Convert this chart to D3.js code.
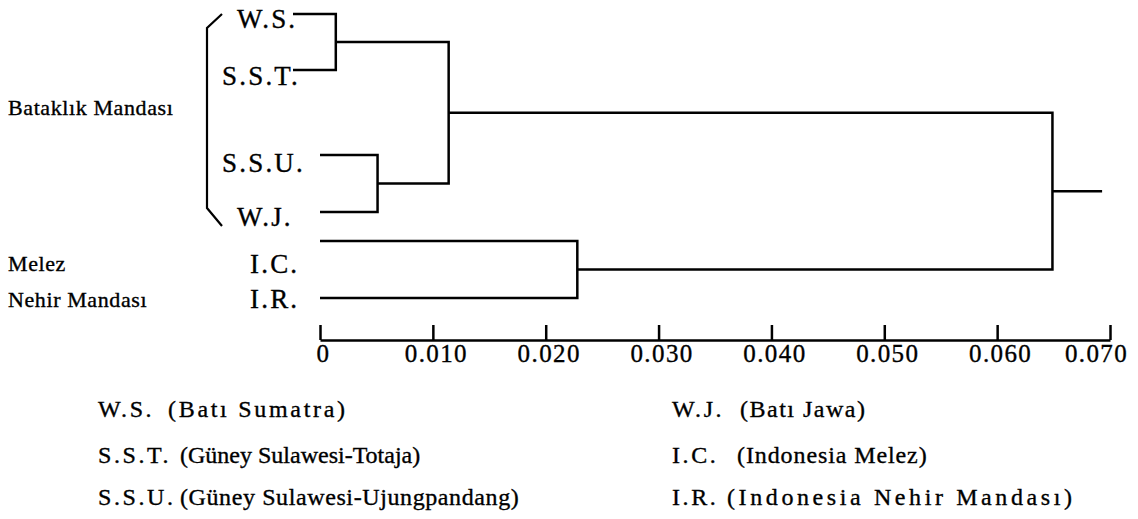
<!DOCTYPE html>
<html>
<head>
<meta charset="utf-8">
<script src="https://cdnjs.cloudflare.com/ajax/libs/d3/7.8.5/d3.min.js"></script>
<style>
  body { margin: 0; background: #fff; }
  svg text { font-family: "Liberation Serif", "Times New Roman", serif; fill: #000; stroke: #000; stroke-width: 0.35px; }
</style>
</head>
<body>
<svg width="1138" height="519"></svg>
<script>
// leaves, top to bottom
var leaves = ["W.S.", "S.S.T.", "S.S.U.", "W.J.", "I.C.", "I.R."];

// each merge joins two children at a distance
var mergeNames = ["ws_sst", "ssu_wj", "bataklik", "ic_ir", "root"];
var mergeChildren = [["W.S.", "S.S.T."], ["S.S.U.", "W.J."], ["ws_sst", "ssu_wj"], ["I.C.", "I.R."], ["bataklik", "ic_ir"]];
var mergeHeights = [0.0014, 0.0051, 0.0114, 0.0228, 0.0649];
var rootTail = 0.0693;

var tickValues = [0, 0.01, 0.02, 0.03, 0.04, 0.05, 0.06, 0.07];
var tickLabels = ["0", "0.010", "0.020", "0.030", "0.040", "0.050", "0.060", "0.070"];

var groupLabels = ["Bataklık Mandası", "Melez", "Nehir Mandası"];

var legendCodes = ["W.S.", "S.S.T.", "S.S.U.", "W.J.", "I.C.", "I.R."];
var legendNames = ["(Batı Sumatra)", "(Güney Sulawesi-Totaja)", "(Güney Sulawesi-Ujungpandang)",
                   "(Batı Jawa)", "(Indonesia Melez)", "(Indonesia Nehir Mandası)"];

var svg = d3.select("svg");

var x = d3.scaleLinear().domain([0, 0.07]).range([320, 1110]);
// uneven leaf spacing as in the scan
var leafY = d3.scaleOrdinal().domain(leaves).range([14, 70, 155, 212, 241, 298]);
var leafStart = d3.scaleOrdinal().domain(leaves).range([293, 293, 320, 320, 320, 320]);

var pos = {};
leaves.forEach(function(l) { pos[l] = {x: leafStart(l), y: leafY(l)}; });
mergeNames.forEach(function(m, i) {
  var c = mergeChildren[i];
  pos[m] = {x: x(mergeHeights[i]), y: (pos[c[0]].y + pos[c[1]].y) / 2};
});

var tree = svg.append("g")
    .attr("fill", "none")
    .attr("stroke", "#000")
    .attr("stroke-width", 2.5);

tree.selectAll("path.link")
  .data(mergeNames)
  .enter().append("path")
    .attr("class", "link")
    .attr("d", function(m, i) {
      var a = pos[mergeChildren[i][0]], b = pos[mergeChildren[i][1]], p = pos[m];
      return "M" + a.x + "," + a.y + "H" + p.x + "V" + b.y + "H" + b.x;
    });

tree.append("path")
    .attr("d", "M" + pos.root.x + "," + pos.root.y + "H" + x(rootTail));

// bracket around the swamp buffalo group
var bTop = leafY("W.S."), bBot = leafY("W.J.") + 14;
tree.append("path")
    .attr("stroke-width", 2.2)
    .attr("d", "M222," + bTop + "L207," + (bTop + 14) + "V" + (bBot - 18) + "L222," + bBot);

// leaf labels
var labelX = [237, 222, 222, 237, 250, 250];
var labelBase = [28, 85, 172, 226, 273, 308];
svg.selectAll("text.leaf")
  .data(leaves)
  .enter().append("text")
    .attr("class", "leaf")
    .attr("x", function(d, i) { return labelX[i]; })
    .attr("y", function(d, i) { return labelBase[i]; })
    .style("font-size", "27px")
    .style("letter-spacing", "2.2px")
    .text(function(d) { return d; });

// group labels on the left
var groupBase = [115, 271, 307];
svg.selectAll("text.group")
  .data(groupLabels)
  .enter().append("text")
    .attr("class", "group")
    .attr("x", 8)
    .attr("y", function(d, i) { return groupBase[i]; })
    .style("font-size", "22px")
    .style("letter-spacing", "0.6px")
    .text(function(d) { return d; });

// axis
var axis = d3.axisBottom(x)
    .tickValues(tickValues)
    .tickFormat(function(d, i) { return tickLabels[i]; })
    .tickSizeInner(-15)
    .tickSizeOuter(0)
    .tickPadding(4);

var gx = svg.append("g")
    .attr("transform", "translate(0,340)")
    .call(axis);
gx.attr("font-family", null).attr("font-size", null);
gx.select(".domain").attr("stroke-width", 2.5);
gx.selectAll(".tick line").attr("stroke-width", 2.5);
gx.selectAll(".tick text")
    .style("font-size", "25px")
    .style("letter-spacing", "1.4px")
    .attr("fill", "#000")
    .attr("dx", function(d, i) { return i === tickValues.length - 1 ? -14 : 3; });

// legend below
var legX = [98, 98, 98, 672, 672, 672];
var legNameX = [168, 180, 180, 740, 737, 727];
var legBase = [417, 463, 505, 417, 463, 505];
var legSpacing = [2.7, 0, 0.6, 1.5, 0.9, 3.6];

var leg = svg.selectAll("g.leg")
  .data(legendCodes)
  .enter().append("g")
    .attr("class", "leg");

leg.append("text")
    .attr("x", function(d, i) { return legX[i]; })
    .attr("y", function(d, i) { return legBase[i]; })
    .style("font-size", "24px")
    .style("letter-spacing", "2.6px")
    .text(function(d) { return d; });

leg.append("text")
    .attr("x", function(d, i) { return legNameX[i]; })
    .attr("y", function(d, i) { return legBase[i]; })
    .style("font-size", "24px")
    .style("letter-spacing", function(d, i) { return legSpacing[i] + "px"; })
    .text(function(d, i) { return legendNames[i]; });
</script>
</body>
</html>
